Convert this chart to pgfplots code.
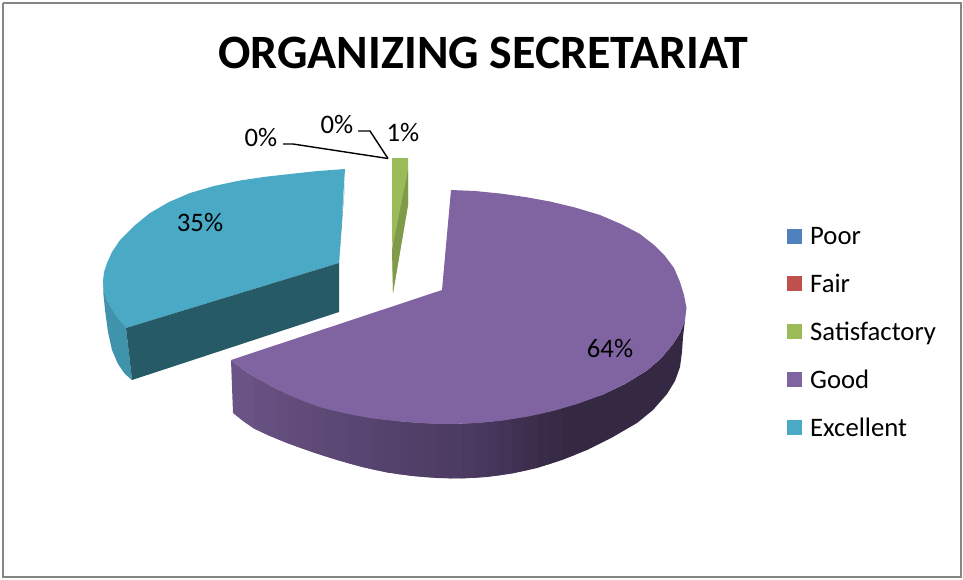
\documentclass[border=0pt]{standalone}
\usepackage{pgfplots}
\pgfplotsset{compat=1.18}
\usepackage{fontspec}
\setmainfont{Carlito}
\definecolor{cPoor}{HTML}{4F81BD}
\definecolor{cFair}{HTML}{C0504D}
\definecolor{cSat}{HTML}{9BBB59}
\definecolor{cSatD}{HTML}{7F9A48}
\definecolor{cGood}{HTML}{8064A2}
\definecolor{cExc}{HTML}{4AA9C4}
\definecolor{cExcS}{HTML}{3F93AB}
\definecolor{cExcD}{HTML}{275A67}
\definecolor{gL}{HTML}{6A5385}
\definecolor{gM}{HTML}{46365B}
\definecolor{gD}{HTML}{352842}
\pgfplotsset{strip/.style={forget plot, draw=none, fill=#1}}
\newcommand{\lab}{\fontsize{26.7}{30}\selectfont}
\begin{document}
\begin{tikzpicture}
\useasboundingbox (0,0) rectangle (963pt,579pt);
\begin{axis}[
  scale only axis, width=963pt, height=579pt,
  xmin=0, xmax=963, ymin=0, ymax=579, y dir=reverse,
  axis lines=none, clip=false,
  legend style={draw=none, fill=none, at={(axis cs:787,225)}, anchor=north west,
    font=\fontsize{26.7}{30}\selectfont, row sep=24pt, inner sep=0pt,
    /tikz/every odd column/.style={column sep=6pt},
    cells={anchor=west}},
  legend image code/.code={\fill[#1] (0pt,-7.5pt) rectangle (15pt,7.5pt);},
]
% frame
\addplot[forget plot, draw=black!48, line width=2pt] coordinates {(3,3) (961,3) (961,577) (3,577) (3,3)};
% Poor and Fair: zero slices at the leader end
\addplot[draw=none, fill=cPoor] coordinates {(392,158) (392,158)}; \addlegendentry{Poor}
\addplot[draw=none, fill=cFair] coordinates {(392,158) (392,158)}; \addlegendentry{Fair}
% Satisfactory
\addplot[draw=none, fill=cSat] coordinates {(392,158) (408,158) (408,205) (393,293) (392,225)}; \addlegendentry{Satisfactory}
\addplot[forget plot, draw=none, fill=cSatD] coordinates {(408,170) (408,205) (393,293) (392,250)};
% Good: side wall, painted left to right, each strip running under the next
\addplot[strip=gL!100!gM] coordinates {(231,360) (241,368) (253,376) (270,385.8) (270,436) (253,428) (243,421) (233,413)};
\addplot[strip=gL!92!gM] coordinates {(253,376) (270,385.8) (270,436) (253,428)};
\addplot[strip=gL!88!gM] coordinates {(261.5,381) (278.5,390) (278.5,439.5) (261.5,432)};
\addplot[strip=gL!85!gM] coordinates {(270,385.8) (287,394) (287,443) (270,436)};
\addplot[strip=gL!80!gM] coordinates {(278.5,390) (299.5,399) (299.5,447.5) (278.5,439.5)};
\addplot[strip=gL!76!gM] coordinates {(287,394) (312,404.2) (312,452) (287,443)};
\addplot[strip=gL!71!gM] coordinates {(299.5,399) (324.5,408) (324.5,456) (299.5,447.5)};
\addplot[strip=gL!67!gM] coordinates {(312,404.2) (337,411.5) (337,460) (312,452)};
\addplot[strip=gL!62!gM] coordinates {(324.5,408) (349.5,414) (349.5,463.5) (324.5,456)};
\addplot[strip=gL!58!gM] coordinates {(337,411.5) (362,416.6) (362,467) (337,460)};
\addplot[strip=gL!53!gM] coordinates {(349.5,414) (374.5,418.3) (374.5,469.8) (349.5,463.5)};
\addplot[strip=gL!49!gM] coordinates {(362,416.6) (387,420) (387,472.5) (362,467)};
\addplot[strip=gL!44!gM] coordinates {(374.5,418.3) (399.5,421.3) (399.5,474.3) (374.5,469.8)};
\addplot[strip=gL!40!gM] coordinates {(387,420) (412,422.5) (412,476) (387,472.5)};
\addplot[strip=gL!35!gM] coordinates {(399.5,421.3) (424.5,423.2) (424.5,477) (399.5,474.3)};
\addplot[strip=gL!31!gM] coordinates {(412,422.5) (437,423.8) (437,478) (412,476)};
\addplot[strip=gL!26!gM] coordinates {(424.5,423.2) (449.5,423.9) (449.5,478.3) (424.5,477)};
\addplot[strip=gL!22!gM] coordinates {(437,423.8) (462,423.8) (462,478.5) (437,478)};
\addplot[strip=gL!17!gM] coordinates {(449.5,423.9) (474.5,423.1) (474.5,477.8) (449.5,478.3)};
\addplot[strip=gL!12!gM] coordinates {(462,423.8) (487,422.3) (487,477) (462,478.5)};
\addplot[strip=gL!6!gM] coordinates {(474.5,423.1) (499.5,420.7) (499.5,475.3) (474.5,477.8)};
\addplot[strip=gM] coordinates {(487,422.3) (512,419) (512,473.5) (487,477)};
\addplot[strip=gM!80!gD] coordinates {(499.5,420.7) (524.5,416.8) (524.5,470.8) (499.5,475.3)};
\addplot[strip=gM!60!gD] coordinates {(512,419) (537,414.5) (537,468) (512,473.5)};
\addplot[strip=gM!42!gD] coordinates {(524.5,416.8) (549.5,411.3) (549.5,464) (524.5,470.8)};
\addplot[strip=gM!25!gD] coordinates {(537,414.5) (562,408) (562,460) (537,468)};
\addplot[strip=gM!12!gD] coordinates {(549.5,411.3) (574.5,404) (574.5,455) (549.5,464)};
\addplot[strip=gD] coordinates {(562,408) (587,400) (603,394.5) (625,384) (647,370.5) (661,358.5) (673,344) (680,333) (685,320)
 (683,337) (682,352) (680,367) (675,381) (667,394) (653,410) (637,423) (612,437.5) (587,450) (562,460)};
% Good: top face
\addplot[draw=none, fill=cGood] coordinates {
 (451,190) (442,290) (231,360) (241,368) (253,376) (270,385.8) (287,394) (303,401) (320,407.2) (345,413.3)
 (370,418) (395,421) (420,423) (437,423.8) (453,424) (478,423) (503,420.5) (528,416.5) (553,411) (578,403.7)
 (603,394.5) (625,384) (647,370.5) (661,358.5) (673,344) (680,333) (685,320) (686.5,308) (684,295) (680,282)
 (674,268) (665,256) (654,245) (640,234) (621,224) (600,215) (575,207.5) (550,201.5) (525,197) (500,193.5) (475,191)}; \addlegendentry{Good}
% Excellent
\addplot[draw=none, fill=cExc] coordinates {
 (345,169) (318,171) (290,174) (265,176.8) (240,180.5) (214,186) (190,193) (169,202) (150,213) (134,226) (120,240)
 (112,252) (107,263) (104,272) (103,281) (104,291) (107,300) (115,314) (126,328) (339,263)}; \addlegendentry{Excellent}
\addplot[forget plot, draw=none, fill=cExcS] coordinates {
 (103,281) (104,291) (107,300) (115,314) (126,328) (132,380) (125,374) (118,364) (112,350) (108,332) (105,310) (103.5,295)};
\addplot[forget plot, draw=none, fill=cExcD] coordinates {(126,328) (339,263) (339,312) (132,380)};
\addplot[forget plot, draw=none, fill=cExcS] coordinates {(345,183) (339,263) (341,228)};
% leaders
\addplot[forget plot, black, line width=1.4pt] coordinates {(283,144) (293,144) (388,158.5)};
\addplot[forget plot, black, line width=1.4pt] coordinates {(358,131) (370,131) (388,158.5)};
% data labels
\node[font=\lab] at (axis cs:200,222) {35\%};
\node[font=\lab] at (axis cs:610,348) {64\%};
\node[font=\lab] at (axis cs:261,137) {0\%};
\node[font=\lab] at (axis cs:337,124) {0\%};
\node[font=\lab] at (axis cs:403,132) {1\%};
\node[font=\bfseries\fontsize{47.9}{52}\selectfont] at (axis cs:483.5,53) {ORGANIZING SECRETARIAT};
\end{axis}
\end{tikzpicture}
\end{document}
